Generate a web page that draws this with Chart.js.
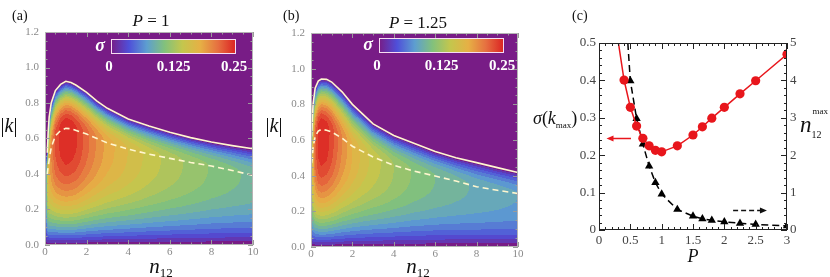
<!DOCTYPE html>
<html>
<head>
<meta charset="utf-8">
<script src="https://cdn.jsdelivr.net/npm/chart.js@4.4.0/dist/chart.umd.min.js"></script>
<style>
  body { margin: 0; background: #fff; width: 830px; height: 277px; position: relative; overflow: hidden; }
  canvas { position: absolute; top: 0; }
  #ca { left: 0; }
  #cb { left: 262px; }
  #cc { left: 528px; }
</style>
</head>
<body>
<canvas id="ca" width="262" height="277"></canvas>
<canvas id="cb" width="266" height="277"></canvas>
<canvas id="cc" width="302" height="277"></canvas>
<script>
// ---- panel (a), P = 1: boundary (solid), k of max growth (dashed), peak sigma per n12 column
var nA    = [0, 0.11, 0.15, 0.2, 0.3, 0.5, 0.75, 1, 1.25, 1.5, 2, 2.5, 3, 4, 5, 6, 7, 8, 9, 10];
var edgeA = [0.5, 0.52, 0.63, 0.72, 0.8, 0.87, 0.905, 0.922, 0.915, 0.9, 0.86, 0.81, 0.77, 0.71, 0.67, 0.635, 0.605, 0.58, 0.56, 0.542];
var peakA = [0.36, 0.4, 0.44, 0.48, 0.55, 0.615, 0.645, 0.657, 0.655, 0.645, 0.625, 0.6, 0.575, 0.54, 0.512, 0.488, 0.465, 0.445, 0.42, 0.392];
var sigA  = [0.02, 0.14, 0.16, 0.18, 0.2, 0.228, 0.243, 0.25, 0.247, 0.24, 0.218, 0.198, 0.182, 0.162, 0.145, 0.132, 0.121, 0.111, 0.103, 0.096];

// ---- panel (b), P = 1.25
var nB    = [0, 0.03, 0.06, 0.1, 0.2, 0.35, 0.5, 0.75, 1, 1.5, 2, 2.5, 3, 4, 5, 6, 7, 8, 9, 10];
var edgeB = [0.6, 0.62, 0.7, 0.8, 0.89, 0.93, 0.942, 0.94, 0.925, 0.87, 0.8, 0.745, 0.69, 0.625, 0.58, 0.535, 0.5, 0.473, 0.445, 0.418];
var peakB = [0.44, 0.47, 0.5, 0.56, 0.62, 0.65, 0.66, 0.655, 0.645, 0.61, 0.565, 0.535, 0.505, 0.458, 0.425, 0.398, 0.37, 0.338, 0.318, 0.3];
var sigB  = [0.02, 0.1, 0.15, 0.18, 0.22, 0.243, 0.25, 0.245, 0.232, 0.2, 0.175, 0.158, 0.145, 0.125, 0.11, 0.1, 0.092, 0.085, 0.08, 0.075];

// ---- panel (c)
var pRed   = [0.31, 0.4, 0.5, 0.6, 0.7, 0.8, 0.9, 1.0, 1.25, 1.5, 1.65, 1.8, 2.0, 2.25, 2.5, 3.0];
var sigMax = [0.5, 0.401, 0.328, 0.278, 0.245, 0.225, 0.213, 0.209, 0.225, 0.254, 0.276, 0.299, 0.328, 0.364, 0.399, 0.47];
var pTri   = [0.46, 0.5, 0.6, 0.7, 0.8, 0.9, 1.0, 1.25, 1.5, 1.65, 1.8, 2.0, 2.25, 2.5, 3.0];
var n12Max = [5.0, 3.99, 2.98, 2.3, 1.71, 1.27, 0.96, 0.55, 0.37, 0.3, 0.26, 0.22, 0.18, 0.15, 0.11];
var arrowRed   = [[0.51, 0.245], [0.12, 0.245]];   // left axis
var arrowBlack = [[2.14, 0.53], [2.68, 0.53]];     // right axis

var sigLabels = ['0', '0.125', '0.25'];

var serif = '"Liberation Serif", "Times New Roman", serif';
var rainbow = [[120,28,134],[79,79,217],[93,158,208],[130,193,124],[196,198,77],[230,176,69],[230,111,64],[219,33,34]];
var LEVELS = 20, SIG_TOP = 0.25;

function cmap(t) {
  t = Math.max(0, Math.min(1, t));
  var s = t * (rainbow.length - 1);
  var i = Math.min(rainbow.length - 2, Math.floor(s));
  var f = s - i;
  return [0,1,2].map(function(j) { return rainbow[i][j] + (rainbow[i+1][j] - rainbow[i][j]) * f; });
}
function bandColor(s) {
  var q = Math.floor(s / SIG_TOP * LEVELS);
  if (q <= 0) return rainbow[0];
  return cmap(Math.min(1, (q + 0.5) / LEVELS));
}
function column(nodes, edge, peak, sig, n) {
  var i = 0;
  while (i < nodes.length - 2 && n > nodes[i+1]) i++;
  var f = Math.max(0, Math.min(1, (n - nodes[i]) / (nodes[i+1] - nodes[i])));
  function lerp(arr) { return arr[i] + (arr[i+1] - arr[i]) * f; }
  return { e: lerp(edge), p: lerp(peak), s: lerp(sig) };
}
// column profile: rises from k = 0 to the dashed k, falls to zero at the solid k
function sigmaAt(c, k) {
  if (k <= 0 || k >= c.e) return 0;
  if (k < c.p) return c.s * (1 - Math.pow(1 - k / c.p, 2.6));
  var u = (k - c.p) / (c.e - c.p);
  return c.s * (1 - u * u);
}

function makeHeat(nodes, edge, peak, sig) {
  return {
    id: 'heat',
    beforeDatasetsDraw: function(chart) {
      var ctx = chart.ctx, a = chart.chartArea, xs = chart.scales.x, ys = chart.scales.y;
      var L = Math.round(a.left), T = Math.round(a.top);
      var W = Math.round(a.right) - L, H = Math.round(a.bottom) - T;
      var img = ctx.createImageData(W, H);
      var cols = [];
      for (var i = 0; i < W; i++) cols.push(column(nodes, edge, peak, sig, xs.getValueForPixel(L + i + 0.5)));
      for (var j = 0; j < H; j++) {
        var k = ys.getValueForPixel(T + j + 0.5);
        for (var i2 = 0; i2 < W; i2++) {
          var c = bandColor(sigmaAt(cols[i2], k));
          var o = (j * W + i2) * 4;
          img.data[o] = c[0]; img.data[o+1] = c[1]; img.data[o+2] = c[2]; img.data[o+3] = 255;
        }
      }
      ctx.putImageData(img, L, T);
    }
  };
}

function rich(ctx, parts, x, y, align) {
  function font(p) { return (p[3] ? 'bold ' : '') + (p[2] ? 'italic ' : '') + p[1] + 'px ' + serif; }
  var w = 0;
  parts.forEach(function(p) { ctx.font = font(p); w += ctx.measureText(p[0]).width; });
  var cx = align === 'center' ? x - w / 2 : (align === 'right' ? x - w : x);
  ctx.textAlign = 'left';
  ctx.textBaseline = 'alphabetic';
  parts.forEach(function(p) {
    ctx.font = font(p);
    ctx.fillText(p[0], cx, y + (p[4] || 0));
    cx += ctx.measureText(p[0]).width;
  });
}

function makeColorbar(dx, dy) {
  return {
    id: 'colorbar',
    afterDatasetsDraw: function(chart) {
      var ctx = chart.ctx, a = chart.chartArea;
      var x0 = Math.round(a.left + dx), y0 = Math.round(a.top + dy), w = 125, h = 15;
      var g = ctx.createLinearGradient(x0, 0, x0 + w, 0);
      rainbow.forEach(function(c, i) { g.addColorStop(i / (rainbow.length - 1), 'rgb(' + c.join(',') + ')'); });
      ctx.save();
      ctx.fillStyle = g;
      ctx.fillRect(x0, y0, w, h);
      ctx.strokeStyle = '#f6dcf2';
      ctx.lineWidth = 1;
      ctx.strokeRect(x0 + 0.5, y0 + 0.5, w - 1, h - 1);
      ctx.fillStyle = '#fff';
      rich(ctx, [['σ', 18, true, true]], x0 - 6, y0 + 12, 'right');
      rich(ctx, [[sigLabels[0], 15, false, true]], x0 - 2, y0 + 32, 'center');
      rich(ctx, [[sigLabels[1], 15, false, true]], x0 + w / 2, y0 + 32, 'center');
      rich(ctx, [[sigLabels[2], 15, false, true]], x0 + w - 2, y0 + 32, 'center');
      ctx.restore();
    }
  };
}

function makeFrame(cfg) {
  return {
    id: 'frame',
    afterDatasetsDraw: function(chart) {
      var ctx = chart.ctx, a = chart.chartArea, s = chart.scales;
      ctx.save();
      ctx.lineWidth = 1;
      ctx.strokeStyle = cfg.tickColor;
      ctx.beginPath();
      function marks(scale, minor, major, side) {
        var cnt = Math.round((scale.max - scale.min) / minor);
        for (var i = 0; i <= cnt; i++) {
          var v = scale.min + i * minor;
          var r = v / major;
          var len = Math.abs(r - Math.round(r)) < 1e-6 ? cfg.major : cfg.minor;
          var p = Math.round(scale.getPixelForValue(v)) + 0.5;
          if (side === 'bottom') { ctx.moveTo(p, a.bottom); ctx.lineTo(p, a.bottom - len); }
          if (side === 'top') { ctx.moveTo(p, a.top); ctx.lineTo(p, a.top + len); }
          if (side === 'left') { ctx.moveTo(a.left, p); ctx.lineTo(a.left + len, p); }
          if (side === 'right') { ctx.moveTo(a.right, p); ctx.lineTo(a.right - len, p); }
        }
      }
      marks(s.x, cfg.xMinor, cfg.xMajor, 'bottom');
      marks(s.x, cfg.xMinor, cfg.xMajor, 'top');
      marks(s.y, cfg.yMinor, cfg.yMajor, 'left');
      if (s.y2) marks(s.y2, cfg.y2Minor, cfg.y2Major, 'right');
      else marks(s.y, cfg.yMinor, cfg.yMajor, 'right');
      ctx.stroke();
      ctx.strokeStyle = cfg.frameColor;
      ctx.strokeRect(Math.round(a.left) + 0.5, Math.round(a.top) + 0.5,
                     Math.round(a.right - a.left) - 1, Math.round(a.bottom - a.top) - 1);
      ctx.restore();
    }
  };
}

function pts(xs, ys, from) {
  return xs.slice(from).map(function(x, i) { return { x: x, y: ys[i + from] }; });
}

function heatConfig(nodes, edge, peak, sig, pad, xH, yW, texts, barDx, barDy) {
  var tickFont = { family: serif, size: 11 };
  return {
    type: 'scatter',
    data: {
      datasets: [
        { data: pts(nodes, edge, 1), showLine: true, borderColor: '#fff7cf', borderWidth: 1.6, pointRadius: 0 },
        { data: pts(nodes, peak, 1), showLine: true, borderColor: '#fff7cf', borderWidth: 1.6, borderDash: [6, 4], pointRadius: 0 }
      ]
    },
    options: {
      responsive: false,
      animation: false,
      layout: { padding: pad },
      plugins: { legend: { display: false }, tooltip: { enabled: false } },
      scales: {
        x: {
          type: 'linear', min: 0, max: 10,
          ticks: { stepSize: 2, color: '#8a8a8a', font: tickFont, padding: 1, maxRotation: 0 },
          grid: { display: false, drawTicks: false }, border: { display: false },
          afterFit: function(sc) { sc.height = xH; }
        },
        y: {
          type: 'linear', min: 0, max: 1.2,
          ticks: { stepSize: 0.2, color: '#8a8a8a', font: tickFont, padding: 6, callback: function(v) { return v.toFixed(1); } },
          grid: { display: false, drawTicks: false }, border: { display: false },
          afterFit: function(sc) { sc.width = yW; }
        }
      }
    },
    plugins: [
      makeHeat(nodes, edge, peak, sig),
      makeFrame({ tickColor: '#9a9a9a', frameColor: '#b4b4b4', major: 5, minor: 2.5,
                  xMajor: 2, xMinor: 0.5, yMajor: 0.2, yMinor: 0.05 }),
      makeColorbar(barDx, barDy),
      { id: 'texts', afterDraw: function(chart) { chart.ctx.save(); chart.ctx.fillStyle = '#111'; texts(chart.ctx); chart.ctx.restore(); } }
    ]
  };
}

// (a)
new Chart(document.getElementById('ca'), heatConfig(nA, edgeA, peakA, sigA,
  { top: 32, right: 9, left: 0, bottom: 0 }, 32, 45,
  function(ctx) {
    rich(ctx, [['(a)', 14]], 12, 20, 'left');
    rich(ctx, [['P', 17, true], [' = 1', 17]], 151, 26, 'center');
    rich(ctx, [['|', 20], ['k', 20, true], ['|', 20]], 9, 132, 'center');
    rich(ctx, [['n', 21, true], ['12', 13, false, false, 4]], 161, 273, 'center');
  }, 66, 7));

// (b)
new Chart(document.getElementById('cb'), heatConfig(nB, edgeB, peakB, sigB,
  { top: 33, right: 10, left: 0, bottom: 0 }, 30, 49,
  function(ctx) {
    rich(ctx, [['(b)', 14]], 21, 20, 'left');
    rich(ctx, [['P', 17, true], [' = 1.25', 17]], 156, 28, 'center');
    rich(ctx, [['|', 20], ['k', 20, true], ['|', 20]], 12, 132, 'center');
    rich(ctx, [['n', 21, true], ['12', 13, false, false, 4]], 156, 273, 'center');
  }, 68, 5));

// (c)
var arrowPlugin = {
  id: 'arrows',
  afterDatasetsDraw: function(chart) {
    var ctx = chart.ctx, x = chart.scales.x, y = chart.scales.y, y2 = chart.scales.y2;
    function arrow(seg, ys, color, dash) {
      var x0 = x.getPixelForValue(seg[0][0]), x1 = x.getPixelForValue(seg[1][0]);
      var yy = Math.round(ys.getPixelForValue(seg[0][1])) + 0.5;
      var dir = x1 > x0 ? 1 : -1;
      ctx.save();
      ctx.strokeStyle = color; ctx.fillStyle = color; ctx.lineWidth = 1.5;
      ctx.setLineDash(dash);
      ctx.beginPath(); ctx.moveTo(x0, yy); ctx.lineTo(x1 - dir * 5, yy); ctx.stroke();
      ctx.setLineDash([]);
      ctx.beginPath(); ctx.moveTo(x1, yy); ctx.lineTo(x1 - dir * 7, yy - 3); ctx.lineTo(x1 - dir * 7, yy + 3); ctx.closePath(); ctx.fill();
      ctx.restore();
    }
    arrow(arrowRed, y, '#e8161c', []);
    arrow(arrowBlack, y2, '#111', [5, 3]);
  }
};
var cTick = { family: serif, size: 13 };
new Chart(document.getElementById('cc'), {
  type: 'scatter',
  data: {
    datasets: [
      { data: pts(pRed, sigMax, 0), yAxisID: 'y', showLine: true, borderColor: '#e8161c', backgroundColor: '#e8161c',
        borderWidth: 1.5, pointStyle: 'circle', pointBorderWidth: 0,
        pointRadius: function(c) { return c.dataIndex === 0 ? 0 : 4.6; } },
      { data: pts(pTri, n12Max, 0), yAxisID: 'y2', showLine: true, borderColor: '#000', backgroundColor: '#000',
        borderWidth: 1.5, borderDash: [7, 4], pointStyle: 'triangle', pointBorderWidth: 0,
        pointRadius: function(c) { return c.dataIndex === 0 ? 0 : 4.8; } }
    ]
  },
  options: {
    responsive: false,
    animation: false,
    layout: { padding: { top: 43, right: 0, left: 0, bottom: 0 } },
    plugins: { legend: { display: false }, tooltip: { enabled: false } },
    scales: {
      x: {
        type: 'linear', min: 0, max: 3,
        ticks: { stepSize: 0.5, color: '#444', font: cTick, padding: 3, maxRotation: 0, callback: function(v) { return String(v); } },
        grid: { display: false, drawTicks: false }, border: { display: false },
        afterFit: function(sc) { sc.height = 47; }
      },
      y: {
        type: 'linear', position: 'left', min: 0, max: 0.5,
        ticks: { stepSize: 0.1, color: '#444', font: cTick, padding: 3, callback: function(v) { return String(Math.round(v * 10) / 10); } },
        grid: { display: false, drawTicks: false }, border: { display: false },
        afterFit: function(sc) { sc.width = 71; }
      },
      y2: {
        type: 'linear', position: 'right', min: 0, max: 5,
        ticks: { stepSize: 1, color: '#444', font: cTick, padding: 3 },
        grid: { display: false, drawTicks: false }, border: { display: false },
        afterFit: function(sc) { sc.width = 43; }
      }
    }
  },
  plugins: [
    makeFrame({ tickColor: '#222', frameColor: '#222', major: 6, minor: 3,
                xMajor: 0.5, xMinor: 0.1, yMajor: 0.1, yMinor: 0.02, y2Major: 1, y2Minor: 0.2 }),
    arrowPlugin,
    { id: 'texts', afterDraw: function(chart) {
      var ctx = chart.ctx;
      ctx.save(); ctx.fillStyle = '#111';
      rich(ctx, [['(c)', 14]], 44, 20, 'left');
      rich(ctx, [['σ', 18, true], ['(', 18], ['k', 18, true], ['max', 9, false, false, 4], [')', 18]], 5, 124, 'left');
      rich(ctx, [['P', 18, true]], 165, 262, 'center');
      ctx.font = 'italic 23px ' + serif;
      ctx.textAlign = 'left'; ctx.textBaseline = 'alphabetic';
      ctx.fillText('n', 272, 132);
      var nw = ctx.measureText('n').width;
      ctx.font = '9px ' + serif; ctx.fillText('max', 272 + nw + 1, 114);
      ctx.font = '10px ' + serif; ctx.fillText('12', 272 + nw, 138);
      ctx.restore();
    } }
  ]
});
</script>
</body>
</html>
